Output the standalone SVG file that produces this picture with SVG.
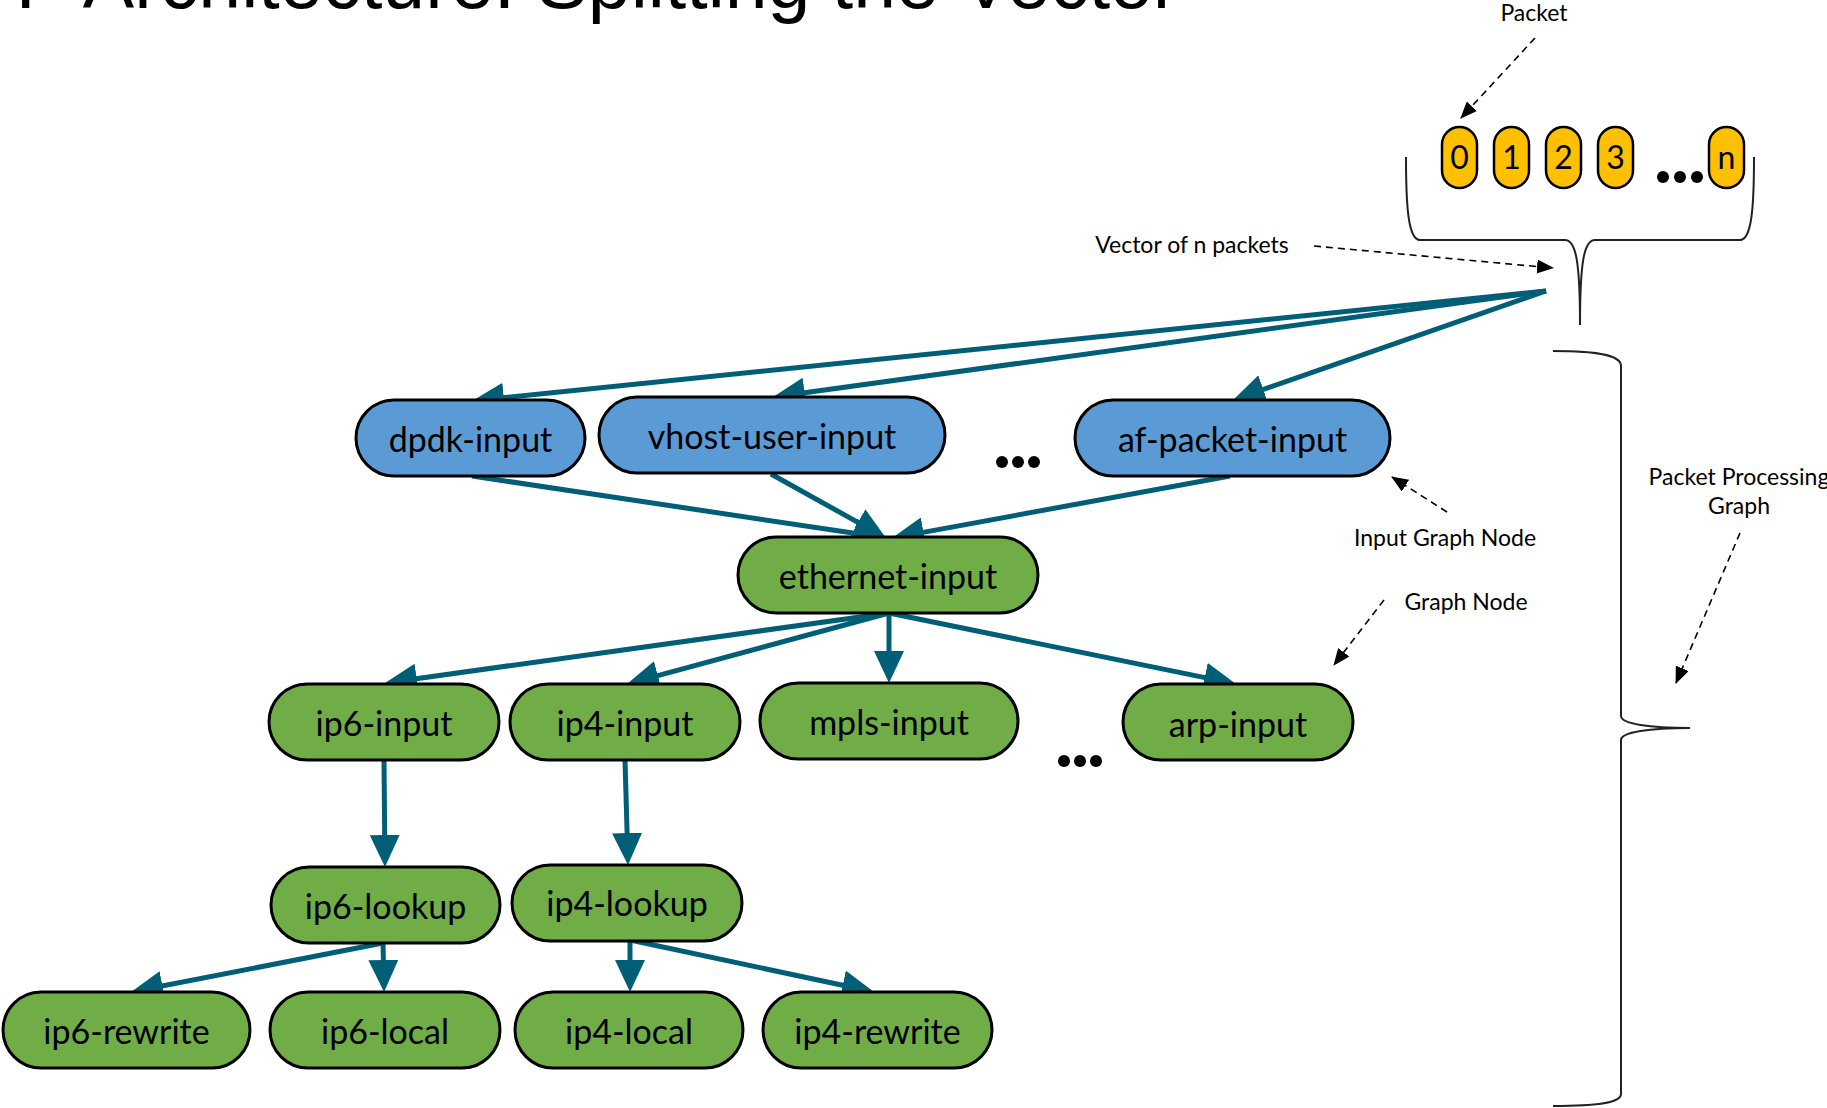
<svg xmlns="http://www.w3.org/2000/svg" width="1827" height="1108" viewBox="0 0 1827 1108">
  <style>
    .title { font-family: "Liberation Sans", Arial, sans-serif; font-size: 77px; fill: #000; }
    .node rect { stroke: #000; stroke-width: 3; }
    .input rect { fill: #5B9BD5; }
    .graph rect { fill: #70AD47; }
    .node text { font-family: Lato, "Liberation Sans", sans-serif; font-size: 34px; fill: #000; text-anchor: middle; }
    .pkt rect { fill: #FFC000; stroke: #000; stroke-width: 2.5; }
    .pkt text { font-family: Lato, "Liberation Sans", sans-serif; font-size: 32px; fill: #000; text-anchor: middle; }
    .label { font-family: Lato, "Liberation Sans", sans-serif; font-size: 23px; fill: #000; text-anchor: middle; }
    .edge { stroke: #005F77; stroke-width: 5; fill: none; marker-end: url(#head); }
    .note { stroke: #000; stroke-width: 1.6; stroke-dasharray: 7 5; fill: none; marker-end: url(#thin); }
    .brace { stroke: #222; stroke-width: 2; fill: none; }
    .dots circle { fill: #000; }
  </style>
  <defs>
    <marker id="head" viewBox="0 0 32 30" markerWidth="32" markerHeight="30" refX="24" refY="15" orient="auto" markerUnits="userSpaceOnUse">
      <path d="M0,0 L32,15 L0,30 z" fill="#005F77"/>
    </marker>
    <marker id="thin" viewBox="0 0 17 14" markerWidth="17" markerHeight="14" refX="16" refY="7" orient="auto" markerUnits="userSpaceOnUse">
      <path d="M0,0 L17,7 L0,14 z" fill="#000"/>
    </marker>
  </defs>

  <!-- heading, partly above the top edge -->
  <text class="title" x="-87" y="8">VPP Architecture: Splitting the Vector</text>

  <!-- vector of packets -->
  <g id="vector">
    <g class="pkt" id="pkt-0"><rect x="1442" y="127" width="35" height="61" rx="17.5"/><text x="1459.5" y="169">0</text></g>
    <g class="pkt" id="pkt-1"><rect x="1494" y="127" width="35" height="61" rx="17.5"/><text x="1511.5" y="169">1</text></g>
    <g class="pkt" id="pkt-2"><rect x="1546" y="127" width="35" height="61" rx="17.5"/><text x="1563.5" y="169">2</text></g>
    <g class="pkt" id="pkt-3"><rect x="1598" y="127" width="35" height="61" rx="17.5"/><text x="1615.5" y="169">3</text></g>
    <g class="dots"><circle cx="1663" cy="177" r="6"/><circle cx="1680" cy="177" r="6"/><circle cx="1697" cy="177" r="6"/></g>
    <g class="pkt" id="pkt-n"><rect x="1709" y="127" width="35" height="61" rx="17.5"/><text x="1726.5" y="169">n</text></g>
    <path class="brace" d="M1406,157 C1406,205 1408,240 1420,240 L1565,240 C1576,240 1580,262 1580,325 C1580,262 1584,240 1595,240 L1740,240 C1752,240 1754,205 1754,157"/>
  </g>

  <!-- brace around the packet processing graph -->
  <path class="brace" d="M1553,351 C1602,351 1621,356 1621,366 L1621,716 C1621,724 1650,728 1690,728 C1650,728 1621,732 1621,740 L1621,1094 C1621,1102 1602,1106 1553,1106"/>

  <!-- annotations -->
  <g id="notes">
    <text class="label" x="1534" y="21">Packet</text>
    <text class="label" x="1192" y="253">Vector of n packets</text>
    <text class="label" x="1445" y="546">Input Graph Node</text>
    <text class="label" x="1466" y="610">Graph Node</text>
    <text class="label" x="1739" y="485">Packet Processing</text>
    <text class="label" x="1739" y="514">Graph</text>
    <path class="note" d="M1535,38 L1461,118"/>
    <path class="note" d="M1314,246 L1553,268"/>
    <path class="note" d="M1447,512 L1392,477"/>
    <path class="note" d="M1384,600 L1334,665"/>
    <path class="note" d="M1740,533 L1676,683"/>
  </g>

  <!-- connectors -->
  <g id="connectors">
    <path class="edge" d="M1546,291 L480,400.2"/>
    <path class="edge" d="M1546,291 L780.9,395.9"/>
    <path class="edge" d="M1546,291 L1240.6,397.4"/>
    <path class="edge" d="M472,476 L878.1,536.8"/>
    <path class="edge" d="M771,474 L879,534.1"/>
    <path class="edge" d="M1230,476 L899.9,536.6"/>
    <path class="edge" d="M889,613 L392.9,681.9"/>
    <path class="edge" d="M889,613 L634.7,681.9"/>
    <path class="edge" d="M889,613 L889,675"/>
    <path class="edge" d="M889,613 L1228.2,682.4"/>
    <path class="edge" d="M384,760 L384.9,859"/>
    <path class="edge" d="M625,760 L627.8,857"/>
    <path class="edge" d="M383,943 L138.9,990.5"/>
    <path class="edge" d="M383,943 L383.9,984"/>
    <path class="edge" d="M630,940 L630,984"/>
    <path class="edge" d="M630,940 L866.2,990.3"/>
  </g>

  <!-- input nodes -->
  <g class="node input" id="dpdk-input"><rect x="356" y="400" width="229" height="76" rx="38"/><text x="470.5" y="452">dpdk-input</text></g>
  <g class="node input" id="vhost-user-input"><rect x="599" y="397" width="346" height="76" rx="38"/><text x="772" y="449">vhost-user-input</text></g>
  <g class="node input" id="af-packet-input"><rect x="1075" y="400" width="315" height="76" rx="38"/><text x="1232.5" y="452">af-packet-input</text></g>
  <g class="dots"><circle cx="1002" cy="462" r="6"/><circle cx="1018" cy="462" r="6"/><circle cx="1034" cy="462" r="6"/></g>

  <!-- graph nodes -->
  <g class="node graph" id="ethernet-input"><rect x="738" y="537" width="300" height="76" rx="38"/><text x="888" y="589">ethernet-input</text></g>
  <g class="node graph" id="ip6-input"><rect x="269" y="684" width="230" height="76" rx="38"/><text x="384" y="736">ip6-input</text></g>
  <g class="node graph" id="ip4-input"><rect x="510" y="684" width="230" height="76" rx="38"/><text x="625" y="736">ip4-input</text></g>
  <g class="node graph" id="mpls-input"><rect x="760" y="683" width="258" height="76" rx="38"/><text x="889" y="735">mpls-input</text></g>
  <g class="node graph" id="arp-input"><rect x="1123" y="684" width="230" height="76" rx="38"/><text x="1238" y="737">arp-input</text></g>
  <g class="dots"><circle cx="1064" cy="761" r="6"/><circle cx="1080" cy="761" r="6"/><circle cx="1096" cy="761" r="6"/></g>
  <g class="node graph" id="ip6-lookup"><rect x="271" y="867" width="229" height="76" rx="38"/><text x="385.5" y="919">ip6-lookup</text></g>
  <g class="node graph" id="ip4-lookup"><rect x="512" y="865" width="230" height="76" rx="38"/><text x="627" y="916">ip4-lookup</text></g>
  <g class="node graph" id="ip6-rewrite"><rect x="3" y="992" width="247" height="76" rx="38"/><text x="126.5" y="1044">ip6-rewrite</text></g>
  <g class="node graph" id="ip6-local"><rect x="270" y="992" width="230" height="76" rx="38"/><text x="385" y="1044">ip6-local</text></g>
  <g class="node graph" id="ip4-local"><rect x="515" y="992" width="228" height="76" rx="38"/><text x="629" y="1044">ip4-local</text></g>
  <g class="node graph" id="ip4-rewrite"><rect x="763" y="992" width="229" height="76" rx="38"/><text x="877.5" y="1044">ip4-rewrite</text></g>
</svg>
